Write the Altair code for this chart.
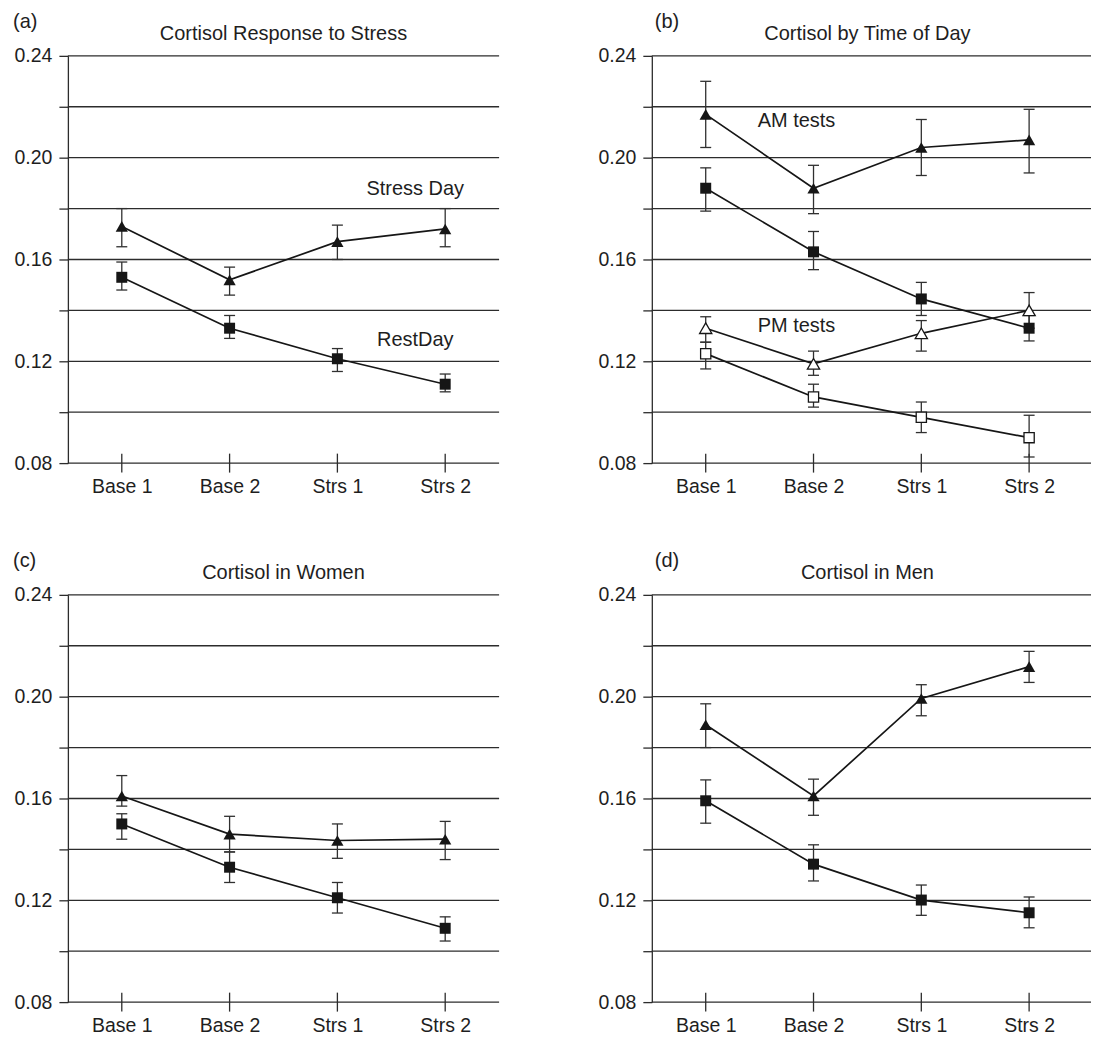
import altair as alt
import pandas as pd

categories = ["Base 1", "Base 2", "Strs 1", "Strs 2"]
y_ticks = [0.08, 0.10, 0.12, 0.14, 0.16, 0.18, 0.20, 0.22, 0.24]

panel_letters = ["(a)", "(b)", "(c)", "(d)"]
panel_titles = ["Cortisol Response to Stress", "Cortisol by Time of Day",
                "Cortisol in Women", "Cortisol in Men"]

# ---- Panel (a): Stress day vs rest day
a_stress_mean = [0.173, 0.152, 0.167, 0.172]
a_stress_lo = [0.165, 0.146, 0.160, 0.165]
a_stress_hi = [0.180, 0.157, 0.1735, 0.180]
a_rest_mean = [0.153, 0.133, 0.121, 0.111]
a_rest_lo = [0.148, 0.129, 0.116, 0.108]
a_rest_hi = [0.159, 0.138, 0.125, 0.115]
a_note_text = ["Stress Day", "RestDay"]
a_note_cond = ["Strs 2", "Strs 2"]
a_note_y = [0.1877, 0.1282]

# ---- Panel (b): AM vs PM tests
b_am_stress_mean = [0.217, 0.188, 0.204, 0.207]
b_am_stress_lo = [0.204, 0.178, 0.193, 0.194]
b_am_stress_hi = [0.230, 0.197, 0.215, 0.219]
b_am_rest_mean = [0.188, 0.163, 0.1445, 0.133]
b_am_rest_lo = [0.179, 0.156, 0.138, 0.128]
b_am_rest_hi = [0.196, 0.171, 0.151, 0.138]
b_pm_stress_mean = [0.133, 0.119, 0.131, 0.140]
b_pm_stress_lo = [0.1275, 0.1145, 0.124, 0.133]
b_pm_stress_hi = [0.1375, 0.124, 0.136, 0.147]
b_pm_rest_mean = [0.123, 0.106, 0.098, 0.090]
b_pm_rest_lo = [0.117, 0.102, 0.092, 0.0824]
b_pm_rest_hi = [0.1275, 0.111, 0.104, 0.0988]
b_note_text = ["AM tests", "PM tests"]
b_note_cond = ["Base 2", "Base 2"]
b_note_y = [0.2145, 0.1337]

# ---- Panel (c): Women
c_stress_mean = [0.161, 0.146, 0.1435, 0.144]
c_stress_lo = [0.157, 0.139, 0.1365, 0.136]
c_stress_hi = [0.169, 0.153, 0.150, 0.151]
c_rest_mean = [0.150, 0.133, 0.121, 0.109]
c_rest_lo = [0.144, 0.127, 0.115, 0.104]
c_rest_hi = [0.154, 0.139, 0.127, 0.1135]

# ---- Panel (d): Men
d_stress_mean = [0.189, 0.161, 0.1993, 0.2118]
d_stress_lo = [0.180, 0.1534, 0.1925, 0.2056]
d_stress_hi = [0.1972, 0.1676, 0.2047, 0.2178]
d_rest_mean = [0.1591, 0.1342, 0.1201, 0.1151]
d_rest_lo = [0.1503, 0.1276, 0.1141, 0.1092]
d_rest_hi = [0.1673, 0.1418, 0.1260, 0.1213]

FONT = "Liberation Sans"
INK = "#161616"
GRID = "#2c2c2c"
EBAR = "#303030"
TXT = "#1e1e1e"
H = 408

y_scale = alt.Scale(domain=[0.08, 0.24], nice=False, zero=False)
y_axis = alt.Axis(
    values=y_ticks,
    labelExpr="round(datum.value * 100) % 4 == 0 ? format(datum.value, '.2f') : ''",
    grid=False,
    domain=True, domainColor=GRID, domainWidth=1.3,
    ticks=True, tickSize=9, tickColor=GRID, tickWidth=1.3,
    labelFont=FONT, labelFontSize=19.5, labelColor=TXT, labelPadding=7,
    title=None,
)
x_scale = alt.Scale(type="point", domain=categories, range=[54, 378], padding=0)
x_axis = alt.Axis(
    domain=False, ticks=False, tickSize=0, grid=False,
    labelFont=FONT, labelFontSize=19.5, labelColor=TXT, labelPadding=14,
    labelAngle=0, title=None,
)


def xenc():
    return alt.X("cond:N", sort=categories, scale=x_scale, axis=x_axis, title=None)


def yenc(field):
    return alt.Y(f"{field}:Q", scale=y_scale, axis=y_axis, title=None)


def build_panel(letter, title, series, notes, note_dx, width, letter_x):
    err_layers, line_layers, pt_layers = [], [], []
    for mean, lo, hi, shape, hollow, size in series:
        df = pd.DataFrame({"cond": categories, "m": mean, "lo": lo, "hi": hi})
        base = alt.Chart(df)
        err_layers.append(base.mark_rule(color=EBAR, strokeWidth=1.3).encode(
            x=xenc(), y=yenc("lo"), y2="hi:Q"))
        err_layers.append(base.mark_tick(orient="horizontal", size=11, thickness=1.3,
                                         color=EBAR, opacity=1).encode(x=xenc(), y=yenc("lo")))
        err_layers.append(base.mark_tick(orient="horizontal", size=11, thickness=1.3,
                                         color=EBAR, opacity=1).encode(x=xenc(), y=yenc("hi")))
        line_layers.append(base.mark_line(color=INK, strokeWidth=1.7).encode(
            x=xenc(), y=yenc("m")))
        if hollow:
            pm = base.mark_point(shape=shape, filled=True, size=size, opacity=1,
                                 fill="white", stroke=INK, strokeWidth=1.3)
        else:
            pm = base.mark_point(shape=shape, filled=True, size=size, opacity=1,
                                 fill=INK, strokeWidth=0)
        pt_layers.append(pm.encode(x=xenc(), y=yenc("m")))

    grid_df = pd.DataFrame({"v": y_ticks})
    grid = alt.Chart(grid_df).mark_rule(color=GRID, strokeWidth=1.3).encode(
        y=yenc("v"), x=alt.value(0), x2=alt.value(width))

    tick_df = pd.DataFrame({"cond": categories})
    x_ticks = alt.Chart(tick_df).mark_tick(
        orient="vertical", size=19, thickness=1.3, color=GRID, opacity=1
    ).encode(x=xenc(), y=alt.YDatum(0.08, scale=y_scale, axis=y_axis, title=None))

    letter_df = pd.DataFrame({"t": [letter]})
    letter_mark = alt.Chart(letter_df).mark_text(
        align="left", baseline="alphabetic", font=FONT, fontSize=20, color=TXT
    ).encode(x=alt.value(letter_x), y=alt.value(-28), text="t:N")
    title_df = pd.DataFrame({"t": [title]})
    title_mark = alt.Chart(title_df).mark_text(
        align="center", baseline="alphabetic", font=FONT, fontSize=20, color=TXT
    ).encode(x=alt.value(216), y=alt.value(-16), text="t:N")

    layers = [grid, x_ticks] + err_layers + line_layers + pt_layers + [letter_mark, title_mark]
    if notes is not None:
        ndf = pd.DataFrame({"cond": notes[1], "y": notes[2], "label": notes[0]})
        layers.append(alt.Chart(ndf).mark_text(
            align="center", baseline="middle", font=FONT, fontSize=20, color=TXT, dx=note_dx
        ).encode(x=xenc(), y=yenc("y"), text="label:N"))
    return alt.layer(*layers).properties(width=width, height=H)


TRI, SQ = "triangle-up", "square"

pa = build_panel(panel_letters[0], panel_titles[0], [
    (a_stress_mean, a_stress_lo, a_stress_hi, TRI, False, 150),
    (a_rest_mean, a_rest_lo, a_rest_hi, SQ, False, 121),
], (a_note_text, a_note_cond, a_note_y), -30, 432, -55)

pb = build_panel(panel_letters[1], panel_titles[1], [
    (b_am_stress_mean, b_am_stress_lo, b_am_stress_hi, TRI, False, 150),
    (b_am_rest_mean, b_am_rest_lo, b_am_rest_hi, SQ, False, 121),
    (b_pm_stress_mean, b_pm_stress_lo, b_pm_stress_hi, TRI, True, 150),
    (b_pm_rest_mean, b_pm_rest_lo, b_pm_rest_hi, SQ, True, 105),
], (b_note_text, b_note_cond, b_note_y), -17, 440, 3)

pc = build_panel(panel_letters[2], panel_titles[2], [
    (c_stress_mean, c_stress_lo, c_stress_hi, TRI, False, 150),
    (c_rest_mean, c_rest_lo, c_rest_hi, SQ, False, 121),
], None, 0, 432, -55)

pd_ = build_panel(panel_letters[3], panel_titles[3], [
    (d_stress_mean, d_stress_lo, d_stress_hi, TRI, False, 150),
    (d_rest_mean, d_rest_lo, d_rest_hi, SQ, False, 121),
], None, 0, 440, 3)

row1 = alt.hconcat(pa, pb, spacing=98)
row2 = alt.hconcat(pc, pd_, spacing=98)
chart = alt.vconcat(row1, row2, spacing=55).properties(
    padding={"left": 5, "top": 3, "right": 0, "bottom": 0},
    background="white",
).configure_view(stroke=None)

chart.save("out.html", embed_options={"renderer": "svg", "actions": False})
